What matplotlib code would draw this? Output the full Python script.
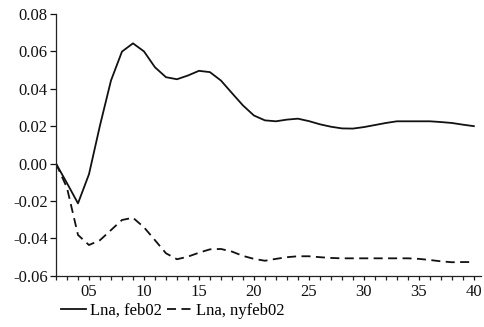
import matplotlib
matplotlib.use("Agg")
import matplotlib.pyplot as plt
from matplotlib.ticker import MultipleLocator, FuncFormatter

periods = list(range(2, 41))
lna_feb02 = [0.0, -0.0105, -0.0213, -0.0057, 0.0204, 0.0444, 0.0599, 0.0643,
             0.0600, 0.0515, 0.0462, 0.0451, 0.0471, 0.0496, 0.0489, 0.0444,
             0.0377, 0.0311, 0.0257, 0.0231, 0.0226, 0.0235, 0.0240, 0.0227,
             0.0210, 0.0197, 0.0188, 0.0187, 0.0195, 0.0206, 0.0217, 0.0226,
             0.0226, 0.0226, 0.0226, 0.0222, 0.0217, 0.0208, 0.0200]
lna_nyfeb02 = [0.0, -0.0130, -0.0382, -0.0436, -0.0410, -0.0356, -0.0302, -0.0290,
               -0.0341, -0.0410, -0.0480, -0.0512, -0.0498, -0.0477, -0.0459, -0.0457,
               -0.0471, -0.0494, -0.0510, -0.0520, -0.0510, -0.0501, -0.0496, -0.0496,
               -0.0501, -0.0505, -0.0507, -0.0507, -0.0507, -0.0507, -0.0507, -0.0507,
               -0.0507, -0.0510, -0.0516, -0.0523, -0.0528, -0.0527, -0.0527]
series_labels = ["Lna, feb02", "Lna, nyfeb02"]
y_ticks = [-0.06, -0.04, -0.02, 0.00, 0.02, 0.04, 0.06, 0.08]

plt.rcParams["font.family"] = ["Liberation Serif", "DejaVu Serif"]
plt.rcParams["font.size"] = 12

fig = plt.figure(figsize=(4.84, 3.27), dpi=100)
ax = fig.add_axes([56 / 484, 1 - 275.7 / 327, (481 - 56) / 484, (275.7 - 14) / 327])

l1, = ax.plot(periods, lna_feb02, color="#111111", lw=1.3, solid_joinstyle="round")
l2, = ax.plot(periods, lna_nyfeb02, color="#111111", lw=1.3, dashes=(5, 3))

ax.set_xlim(2, 40.65)
ax.set_ylim(-0.06, 0.08)
ax.set_yticks(y_ticks)
ax.yaxis.set_major_formatter(FuncFormatter(lambda v, p: f"{v:.2f}" if abs(v) > 1e-9 else "0.00"))
ax.xaxis.set_major_locator(MultipleLocator(5))
ax.xaxis.set_minor_locator(MultipleLocator(1))
ax.xaxis.set_major_formatter(FuncFormatter(lambda v, p: f"{int(round(v)):02d}"))

for s in ("top", "right"):
    ax.spines[s].set_visible(False)
for s in ("left", "bottom"):
    ax.spines[s].set_linewidth(0.9)
    ax.spines[s].set_color("#222222")

ax.tick_params(axis="y", direction="out", length=4, width=0.9, pad=2, colors="#111111")
ax.tick_params(axis="x", which="major", direction="out", length=3, width=0.9, pad=3, colors="#111111")
ax.tick_params(axis="x", which="minor", direction="out", length=3, width=0.9, colors="#222222")

fig.legend([l1, l2], series_labels, loc="center left",
           bbox_to_anchor=(61 / 484, 1 - 311 / 327), frameon=False,
           ncol=2, handlelength=1.5, handletextpad=0.25, columnspacing=0.3,
           borderpad=0, borderaxespad=0, fontsize=12)

fig.savefig("out.png", dpi=100)
